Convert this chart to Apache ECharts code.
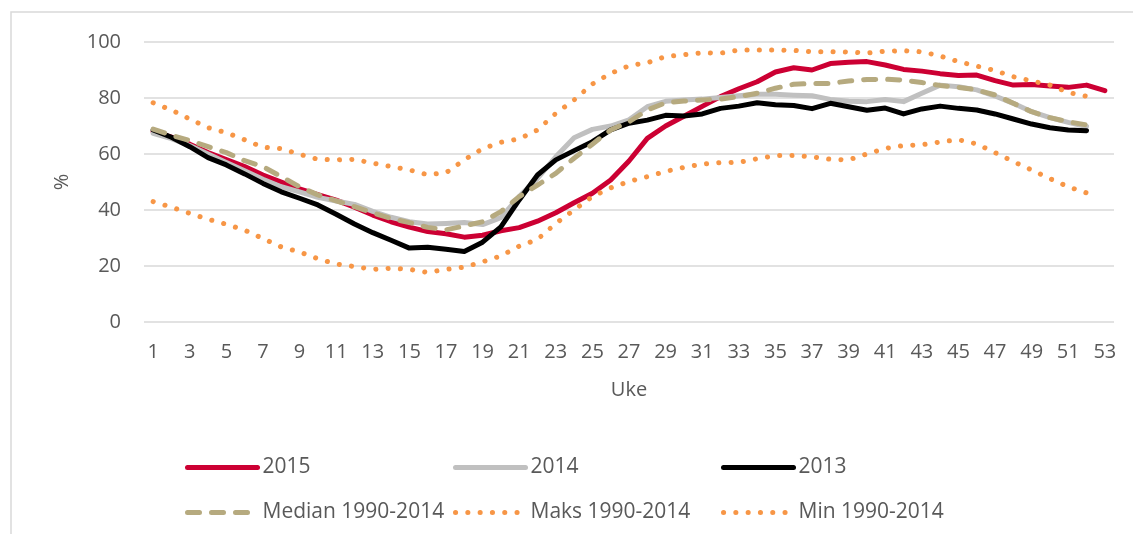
<!DOCTYPE html>
<html>
<head>
<meta charset="utf-8">
<script src="https://cdn.jsdelivr.net/npm/echarts@6/dist/echarts.min.js"></script>
<style>
  html, body { margin: 0; padding: 0; background: #fff; }
  #chart { width: 1133px; height: 534px; }
</style>
</head>
<body>
<div id="chart"></div>
<script>
// uker 1..53
var weeks = [];
for (var w = 1; w <= 53; w++) weeks.push(String(w));

var s2015 = [68, 66, 63.5, 60.5, 58, 55.5, 52.5, 50, 47.5, 45.5, 43.5, 41, 38.2, 35.8, 33.9, 32.3, 31.5, 30.3, 31, 32.6,
  33.7, 36, 39, 42.6, 46, 50.7, 57.5, 65.6, 70, 73.5, 77, 80.5, 83.3, 85.8, 89.3, 90.8, 90, 92.3, 92.8, 93,
  91.8, 90.2, 89.6, 88.7, 88, 88.2, 86.2, 84.6, 84.8, 84.3, 83.8, 84.6, 82.6];
var s2014 = [67.4, 65.5, 63, 60, 57, 54, 51, 48.3, 46.5, 44.5, 43.2, 42, 39.5, 37.4, 35.8, 35, 35.2, 35.5, 34.8, 37.3,
  44.8, 51.3, 59, 65.8, 68.8, 70, 72.2, 76.9, 78.8, 79.3, 79.6, 80.2, 80.8, 81.3, 81.3, 81, 80.8, 79.5, 78.8, 78.7,
  79.5, 78.7, 81.7, 84.6, 84, 82.9, 80.7, 78.1, 75.1, 73, 71.3, 69.8];
var s2013 = [68.6, 66, 62.6, 58.7, 56.1, 52.9, 49.5, 46.5, 44.2, 41.8, 38.5, 35, 31.9, 29.2, 26.4, 26.7, 26, 25.2, 28.5, 34,
  43.6, 52.5, 57.9, 61.2, 64.4, 68.6, 71, 72.1, 73.8, 73.6, 74.3, 76.3, 77.1, 78.3, 77.6, 77.3, 76.2, 78.1, 76.9, 75.6,
  76.4, 74.3, 76.1, 77.1, 76.3, 75.7, 74.3, 72.5, 70.7, 69.4, 68.6, 68.3];
var median = [68.9, 66.7, 64.8, 62.6, 60.5, 57.6, 55.5, 51.9, 48.3, 45.4, 43.3, 41.2, 39, 37, 35.5, 33.8, 32.9, 34.3, 35.8, 39.4,
  44.8, 48.9, 53.1, 58.5, 63.5, 68.6, 71.5, 75.7, 78.3, 78.9, 79.3, 79.6, 80.5, 81.7, 83.5, 84.9, 85.2, 85.2, 86.1, 86.6,
  86.7, 86.4, 85.5, 84.5, 83.8, 82.9, 81.1, 78.1, 75.1, 73, 71.5, 70.4];
var maks = [78.3, 75.7, 72.5, 69.4, 67.6, 65.1, 62.4, 61.9, 59.9, 58.1, 57.9, 58.1, 56.7, 55.5, 54.3, 52.6, 53.3, 57.9, 61.9, 64.2,
  65.4, 68.6, 74.5, 79.3, 85, 88.8, 91.5, 92.6, 94.8, 95.5, 96.1, 96, 97.1, 97.1, 97.1, 97, 96.5, 96.5, 96.4, 96.1,
  96.7, 96.9, 96.5, 95, 93, 91.4, 89.8, 87.6, 86.1, 84.6, 82, 80.6];
var minimum = [43, 41, 38.8, 36.7, 34.9, 32.8, 29.8, 26.8, 25, 22.6, 20.7, 19.8, 18.8, 19.2, 18.8, 17.7, 18.8, 19.6, 21.5, 23.6,
  27.1, 29.5, 35.2, 40, 44.8, 47.9, 50.2, 51.9, 53.8, 55.2, 56.4, 56.9, 57, 58.3, 59.4, 59.5, 59, 58.1, 57.9, 60,
  62, 63, 63.3, 64.3, 65.1, 63.6, 60.5, 57.3, 54.3, 51.2, 48.3, 46.1];

var txt = '#595959';
var font = 'Open Sans';

function leg(name, left, top) {
  return {
    data: [name], left: left, top: top,
    itemWidth: 70, itemHeight: 20, itemGap: 0,
    itemStyle: { opacity: 0, borderWidth: 0 },
    lineStyle: { width: 5, cap: 'round' },
    textStyle: { color: txt, fontFamily: font, fontSize: 21 }
  };
}

function line(name, data, color, width, type) {
  return {
    name: name, type: 'line', data: data,
    symbol: 'none', smooth: false,
    lineStyle: { color: color, width: width, type: type || 'solid', cap: 'round', join: 'round' },
    itemStyle: { color: color }
  };
}

var chart = echarts.init(document.getElementById('chart'));
chart.setOption({
  animation: false,
  backgroundColor: '#fff',
  graphic: [{
    type: 'rect', shape: { x: 11, y: 12, width: 1200, height: 600 },
    style: { fill: 'none', stroke: '#d9d9d9', lineWidth: 1.5 }, silent: true
  }],
  grid: { left: 144, right: 19, top: 42, bottom: 212 },
  legend: [
    leg('2015', 180, 452), leg('2014', 448, 452), leg('2013', 716, 452),
    leg('Median 1990-2014', 180, 497), leg('Maks 1990-2014', 448, 497), leg('Min 1990-2014', 716, 497)
  ],
  xAxis: {
    type: 'category', data: weeks, boundaryGap: true,
    name: 'Uke', nameLocation: 'middle', nameGap: 58,
    nameTextStyle: { color: txt, fontFamily: font, fontSize: 20 },
    axisLine: { show: false }, axisTick: { show: false },
    axisLabel: { interval: 1, color: txt, fontFamily: font, fontSize: 20, margin: 20 }
  },
  yAxis: {
    type: 'value', min: 0, max: 100, interval: 20,
    name: '%', nameLocation: 'middle', nameGap: 72, nameRotate: 90,
    nameTextStyle: { color: txt, fontFamily: font, fontSize: 20 },
    axisLine: { show: false }, axisTick: { show: false },
    axisLabel: { color: txt, fontFamily: font, fontSize: 20, margin: 23 },
    splitLine: { lineStyle: { color: '#d9d9d9', width: 1.5 } }
  },
  series: [
    line('2015', s2015, '#cc0033', 5),
    line('2014', s2014, '#c0c0c0', 5),
    line('2013', s2013, '#000000', 5),
    line('Median 1990-2014', median, '#b6aa7f', 5, [12, 12]),
    line('Maks 1990-2014', maks, '#f79646', 5, [0.1, 12.2]),
    line('Min 1990-2014', minimum, '#f79646', 5, [0.1, 12.2])
  ]
});
</script>
</body>
</html>
